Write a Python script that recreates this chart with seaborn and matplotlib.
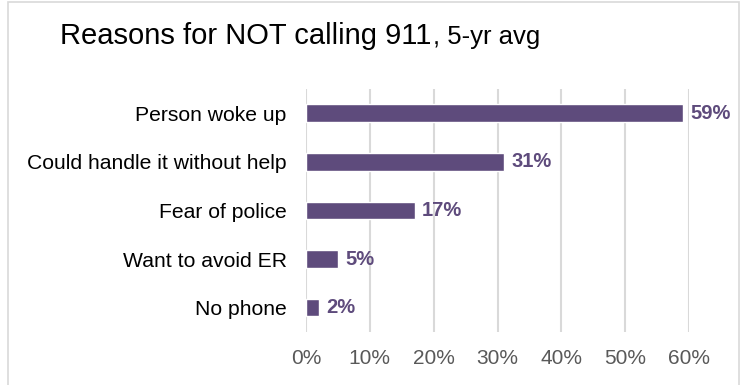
import matplotlib
matplotlib.use("Agg")
import matplotlib.pyplot as plt
import seaborn as sns
import pandas as pd
from matplotlib.patches import Rectangle
from matplotlib.ticker import FuncFormatter

# Survey data: reasons given for not calling 911 (5-year average, %)
reasons = [
    "Person woke up",
    "Could handle it without help",
    "Fear of police",
    "Want to avoid ER",
    "No phone",
]
shares = [59, 31, 17, 5, 2]
x_ticks = [0, 10, 20, 30, 40, 50, 60]

PURPLE = "#5E4B7C"
GRID = "#D9D9D9"
TICK_GRAY = "#595959"

sns.set_theme(style="white")
plt.rcParams["font.family"] = ["Liberation Sans", "DejaVu Sans"]

df = pd.DataFrame({"reason": reasons, "share": shares})

fig = plt.figure(figsize=(7.42, 3.85), dpi=100)
ax = fig.add_axes([0.4124, 0.1377, 0.9286 - 0.4124, 0.769 - 0.1377])

sns.barplot(data=df, x="share", y="reason", orient="h", color=PURPLE,
            width=0.36, saturation=1, ax=ax, zorder=3)

ax.set_xlim(0, 60)
ax.set_xticks(x_ticks)
ax.xaxis.set_major_formatter(FuncFormatter(lambda v, _: f"{v:.0f}%"))
ax.grid(axis="x", color=GRID, linewidth=1.5, zorder=0)
ax.grid(axis="y", visible=False)
for s in ax.spines.values():
    s.set_visible(False)

ax.set_xlabel("")
ax.set_ylabel("")
ax.tick_params(axis="x", length=0, pad=12, labelsize=15, labelcolor=TICK_GRAY)
ax.tick_params(axis="y", length=0, pad=14, labelsize=15.2, labelcolor="black")

labels = ax.bar_label(ax.containers[0], labels=[f"{v}%" for v in shares],
                      padding=5.5, color=PURPLE, fontsize=14.5,
                      fontweight="bold")
for t in labels:
    t.set_clip_on(False)

# Title in two sizes; the smaller part follows right after the main text
title_y = 1 - 44 / 385
title = fig.text(60 / 742, title_y, "Reasons for NOT calling 911",
                 fontsize=21, color="black", ha="left", va="baseline")
fig.canvas.draw()
tb = title.get_window_extent(renderer=fig.canvas.get_renderer())
fig.text(tb.x1 / fig.bbox.width + 0.002, title_y, ", 5-yr avg",
         fontsize=18.5, color="black", ha="left", va="baseline")

# Light frame around the chart
fig.patches.append(Rectangle((8 / 742, -0.02), (739 - 8) / 742,
                             1.02 - 2 / 385, transform=fig.transFigure,
                             fill=False, edgecolor=GRID, linewidth=1.2))

fig.savefig("out.png", dpi=100)
